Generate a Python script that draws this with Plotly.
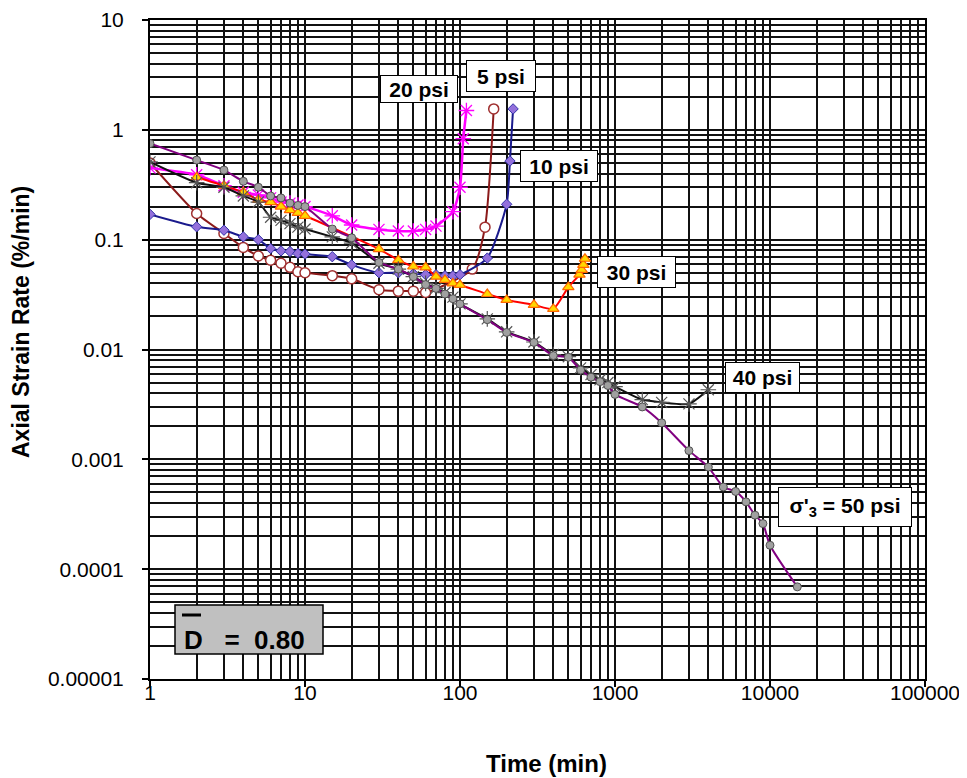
import plotly.graph_objects as go

# ---------------- data ----------------
x50 = [1, 2, 3, 4, 5, 6, 7, 8, 9, 10, 15, 20, 30, 40, 50, 60, 70, 80, 90, 100, 150, 200,
       300, 400, 500, 600, 700, 800, 900, 1000, 1500, 2000, 3000, 4000, 5000, 6000, 7000,
       8000, 9000, 10000, 15000]
y50 = [0.75, 0.53, 0.43, 0.34, 0.30, 0.25, 0.24, 0.215, 0.205, 0.20, 0.125, 0.104, 0.062,
       0.054, 0.046, 0.039, 0.036, 0.032, 0.029, 0.026, 0.0187, 0.0143, 0.0116, 0.0088,
       0.0085, 0.0065, 0.0056, 0.0051, 0.0047, 0.0039, 0.0030, 0.00215, 0.0012, 0.00085,
       0.00056, 0.00051, 0.00041, 0.00031, 0.00026, 0.000165, 0.000069]

x40 = [1, 2, 3, 4, 5, 6, 7, 8, 9, 10, 15, 20, 30, 40, 50, 60, 70, 80, 90, 100, 150, 200,
       300, 400, 500, 600, 700, 800, 900, 1000, 1500, 2000, 3000, 4000]
y40 = [0.51, 0.33, 0.30, 0.25, 0.22, 0.16, 0.15, 0.14, 0.13, 0.125, 0.106, 0.093, 0.061,
       0.054, 0.046, 0.040, 0.036, 0.033, 0.030, 0.026, 0.019, 0.0145, 0.0117, 0.0090,
       0.0086, 0.0068, 0.0059, 0.0053, 0.0050, 0.0046, 0.0035, 0.0033, 0.0032, 0.0043]

x30 = [2, 3, 4, 5, 6, 7, 8, 9, 10, 30, 40, 50, 60, 70, 80, 90, 100, 150, 200, 300, 400,
       500, 590, 610, 625, 640]
y30 = [0.37, 0.31, 0.27, 0.23, 0.22, 0.20, 0.186, 0.175, 0.165, 0.082, 0.065, 0.057, 0.056,
       0.046, 0.043, 0.040, 0.0387, 0.032, 0.0283, 0.0255, 0.0234, 0.037, 0.048, 0.053,
       0.059, 0.067]

x20 = [1, 2, 3, 4, 5, 6, 7, 8, 9, 10, 15, 20, 30, 40, 50, 60, 70, 90, 100, 105, 110]
y20 = [0.45, 0.39, 0.31, 0.27, 0.255, 0.24, 0.22, 0.215, 0.207, 0.20, 0.165, 0.136, 0.124,
       0.12, 0.12, 0.124, 0.133, 0.18, 0.30, 0.83, 1.5]

x10 = [1, 2, 3, 4, 5, 6, 7, 8, 9, 10, 15, 20, 30, 40, 50, 60, 70, 80, 90, 100, 150, 200,
       210, 220]
y10 = [0.17, 0.131, 0.122, 0.106, 0.10, 0.083, 0.079, 0.078, 0.075, 0.074, 0.070, 0.059,
       0.050, 0.050, 0.049, 0.048, 0.048, 0.047, 0.047, 0.048, 0.068, 0.21, 0.52, 1.55]

x5 = [1, 2, 3, 4, 5, 6, 7, 8, 9, 10, 15, 20, 30, 40, 50, 60, 120, 145, 165]
y5 = [0.5, 0.173, 0.114, 0.085, 0.071, 0.065, 0.061, 0.056, 0.051, 0.050, 0.047, 0.044,
      0.035, 0.034, 0.034, 0.033, 0.054, 0.13, 1.55]

x_tickvals = [1, 10, 100, 1000, 10000, 100000]
x_ticktext = ["1", "10", "100", "1000", "10000", "100000"]
y_tickvals = [10, 1, 0.1, 0.01, 0.001, 0.0001, 0.00001]
y_ticktext = ["10", "1", "0.1", "0.01", "0.001", "0.0001", "0.00001"]

FONT = "Liberation Sans, Arial, sans-serif"
W, H = 967, 778
OFF = 8                      # page body margin in the browser
PL, PR, PT, PB = 150, 925, 20, 679   # wanted plot-area edges in page pixels
L, T = PL - OFF, PT - OFF
PW, PH = PR - PL, PB - PT
R, B = W - L - PW, H - T - PH


def px(xp):
    return (xp - PL) / PW


def py(yp):
    return 1 - (yp - PT) / PH


fig = go.Figure()

series = [
    (x5, y5, dict(color="#8B1A1A", width=2),
     dict(symbol="circle", size=10, color="white", line=dict(color="#A03030", width=1.5))),
    (x10, y10, dict(color="#1A1A8C", width=2),
     dict(symbol="diamond", size=8, color="#9370DB", line=dict(color="#3333AA", width=1))),
    (x20, y20, dict(color="#FF00FF", width=2.5),
     dict(symbol="asterisk-open", size=13, color="#FF00FF", line=dict(color="#FF00FF", width=1.3))),
    (x30, y30, dict(color="#FF0000", width=2),
     dict(symbol="triangle-up", size=10, color="#FFD700", line=dict(color="#FF6600", width=1.2))),
    (x40, y40, dict(color="#111111", width=2),
     dict(symbol="asterisk-open", size=13, color="#555555", line=dict(color="#555555", width=1.2))),
    (x50, y50, dict(color="#800080", width=2),
     dict(symbol="circle", size=8, color="#A0A0A0", line=dict(color="#505050", width=1))),
]

for xs, ys, ln, mk in series:
    fig.add_trace(go.Scatter(x=xs, y=ys, mode="lines+markers",
                             line=dict(shape="spline", smoothing=0.6, **ln),
                             marker=mk, showlegend=False, hoverinfo="skip"))

axis_common = dict(
    type="log", automargin=False,
    showline=True, linecolor="black", linewidth=2, mirror=True,
    ticks="outside", ticklen=6, tickwidth=1.5, tickcolor="black",
    showgrid=True, gridcolor="#111111", gridwidth=1.5,
    tickfont=dict(family=FONT, size=21, color="black"),
    ticklabeloverflow="allow",
    zeroline=False,
    minor=dict(dtick="D1", showgrid=True, gridcolor="#111111", gridwidth=1.5, ticks=""),
)

fig.update_layout(
    width=W, height=H,
    margin=dict(l=L, r=R, t=T, b=B),
    paper_bgcolor="white", plot_bgcolor="white",
    showlegend=False,
    xaxis=dict(range=[0, 5], tickvals=x_tickvals, ticktext=x_ticktext,
               ticklabelstandoff=-12, **axis_common),
    yaxis=dict(range=[-5, 1], tickvals=y_tickvals, ticktext=y_ticktext,
               ticklabelstandoff=14, **axis_common),
)

# axis titles
fig.add_annotation(xref="paper", yref="paper", x=px(546), y=py(763),
                   text="<b>Time (min)</b>", showarrow=False,
                   font=dict(family=FONT, size=24, color="black"),
                   xanchor="center", yanchor="middle")
fig.add_annotation(xref="paper", yref="paper", x=px(21), y=py(322),
                   text="<b>Axial Strain Rate (%/min)</b>", showarrow=False, textangle=-90,
                   font=dict(family=FONT, size=23, color="black"),
                   xanchor="center", yanchor="middle")

# series labels: (text, x0, x1, y0, y1) box in page pixels
labels = [
    ("20 psi", 380, 458, 75, 103),
    ("5 psi", 466, 536, 60, 92),
    ("10 psi", 520, 598, 150, 182),
    ("30 psi", 597, 676, 256, 288),
    ("40 psi", 725, 800, 362, 393),
    ("σ'<sub>3</sub> = 50 psi", 778, 912, 487, 527),
]
for txt, x0, x1, y0, y1 in labels:
    fig.add_annotation(xref="paper", yref="paper", x=px((x0 + x1) / 2), y=py((y0 + y1) / 2),
                       text="<b>" + txt + "</b>", showarrow=False,
                       font=dict(family=FONT, size=21, color="black"),
                       bgcolor="white", bordercolor="black", borderwidth=1, borderpad=1,
                       width=x1 - x0 - 4, height=y1 - y0 - 4,
                       xanchor="center", yanchor="middle", valign="middle", align="center")

# D-bar box
fig.add_shape(type="rect", xref="paper", yref="paper",
              x0=px(175), x1=px(323), y0=py(654), y1=py(605),
              fillcolor="#C0C0C0", line=dict(color="black", width=1.5), layer="above")
fig.add_shape(type="line", xref="paper", yref="paper",
              x0=px(182), x1=px(201), y0=py(615), y1=py(615),
              line=dict(color="black", width=3), layer="above")
fig.add_annotation(xref="paper", yref="paper", x=px(182), y=py(640),
                   text="<b>D\u00a0\u00a0\u00a0=\u00a0\u00a00.80</b>", showarrow=False,
                   font=dict(family=FONT, size=26, color="black"),
                   xanchor="left", yanchor="middle")

fig.write_html("out.html")
